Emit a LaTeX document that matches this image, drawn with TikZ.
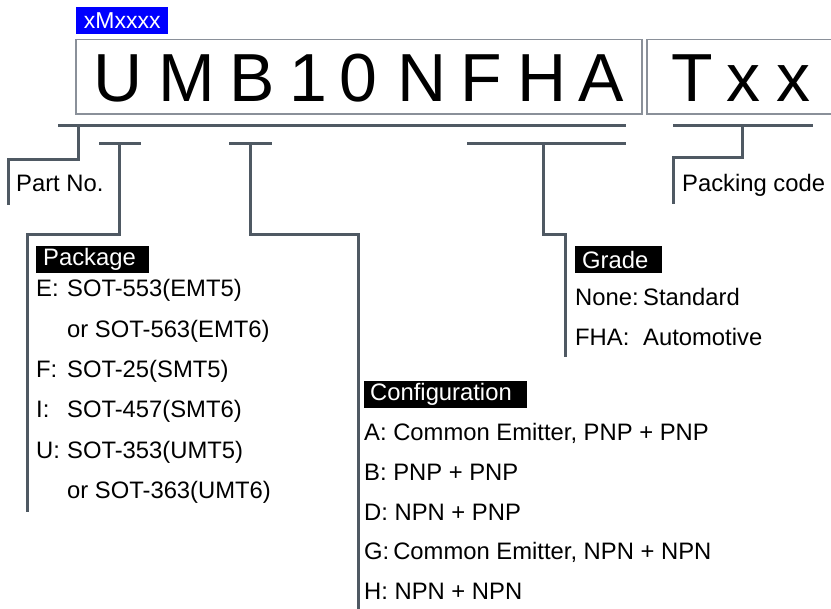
\documentclass[tikz,border=0pt]{standalone}
\usepackage{fontspec}
\setmainfont{Liberation Sans}
\definecolor{linegray}{HTML}{4F5963}
\definecolor{boxgray}{HTML}{8A9099}
\definecolor{tagblue}{HTML}{0000FF}
\begin{document}
\begin{tikzpicture}[x=1pt,y=-1pt,
  conn/.style={draw=linegray, line width=3pt},
  codebox/.style={draw=boxgray, line width=1.3pt},
  big/.style={font=\fontsize{68}{70}\selectfont, anchor=base, inner sep=0},
  txt/.style={font=\fontsize{23.8}{26}\selectfont, anchor=base west, inner sep=0},
  tag/.style={fill=black, text=white, font=\fontsize{23.8}{26}\selectfont, anchor=north west, inner sep=0, minimum height=27pt, align=left}]
\useasboundingbox (0,0) rectangle (831,609);
% header tag
\node[fill=tagblue, text=white, font=\fontsize{23}{25}\selectfont, anchor=north west, inner sep=0, minimum width=92pt, minimum height=27pt] (xm) at (76,7) {xMxxxx};
% code boxes
\draw[codebox] (76,39.5) rectangle (642,114);
\draw[codebox] (647,39.5) rectangle (840,114);
% big letters
\node[big] (cU) at (118,102) {U};
\node[big] (cM) at (187,102) {M};
\node[big] (cB) at (252,102) {B};
\node[big] (c1) at (308,102) {1};
\node[big] (c0) at (358,102) {0};
\node[big] (cN) at (422,102) {N};
\node[big] (cF) at (481,102) {F};
\node[big] (cH) at (542,102) {H};
\node[big] (cA) at (601,102) {A};
\node[big] (cT) at (692,102) {T};
\node[big] (cx1) at (743,102) {x};
\node[big] (cx2) at (793,102) {x};
% coordinates of connectors
\coordinate (topL) at (58,126);
\coordinate (topR) at (626,126);
\coordinate (pkL) at (673,126);
\coordinate (pkR) at (813,126);
\coordinate (pkgL) at (99,144);
\coordinate (pkgR) at (141,144);
\coordinate (cfgL) at (229,144);
\coordinate (cfgR) at (272,144);
\coordinate (grdL) at (467,144);
\coordinate (grdR) at (626,144);
% horizontal bars
\draw[conn] (topL) -- (topR);
\draw[conn] (pkL) -- (pkR);
\draw[conn] (pkgL) -- (pkgR);
\draw[conn] (cfgL) -- (cfgR);
\draw[conn] (grdL) -- (grdR);
% labels
\node[txt] (partno) at (16,191.5) {Part No.};
\node[txt] (packing) at (682,191.5) {Packing code};
% legs
\coordinate (partEnd) at (8,205);
\draw[conn] (78,126) -- (78,160) -- (8,160) -- (partEnd);
\coordinate (packEnd) at (673,204);
\draw[conn] (742,126) -- (742,158) -- (673,158) -- (packEnd);
\coordinate (pkgEnd) at (27,512);
\draw[conn] (119,144) -- (119,235) -- (27,235) -- (pkgEnd);
\coordinate (cfgEnd) at (358,612);
\draw[conn] (250,144) -- (250,235) -- (358,235) -- (cfgEnd);
\coordinate (grdEnd) at (565,357);
\draw[conn] (543,144) -- (543,235) -- (565,235) -- (grdEnd);
% Package
\node[tag, text width=113pt] (pkg) at (36,246) {\hspace*{7pt}Package};
\node[txt] (pE) at (36,297) {E:};
\node[txt] (pEv) at (67,297) {SOT-553(EMT5)};
\node[txt] (pE2) at (67,337.5) {or SOT-563(EMT6)};
\node[txt] (pF) at (36,378) {F:};
\node[txt] (pFv) at (67,378) {SOT-25(SMT5)};
\node[txt] (pI) at (36,418) {I:};
\node[txt] (pIv) at (67,418) {SOT-457(SMT6)};
\node[txt] (pU) at (36,458.5) {U:};
\node[txt] (pUv) at (67,458.5) {SOT-353(UMT5)};
\node[txt] (pU2) at (67,499) {or SOT-363(UMT6)};
% Grade
\node[tag, text width=87pt] (grd) at (575,246) {\hspace*{7pt}Grade};
\node[txt] (gN) at (575,306) {None:};
\node[txt] (gNv) at (643,306) {Standard};
\node[txt] (gF) at (575,346) {FHA:};
\node[txt] (gFv) at (643,346) {Automotive};
% Configuration
\node[tag, text width=163pt] (cfg) at (364,381) {\hspace*{6pt}Configuration};
\node[txt] (cA) at (364,441) {A: Common Emitter, PNP + PNP};
\node[txt] (cB) at (364,480.7) {B: PNP + PNP};
\node[txt] (cD) at (364,520.4) {D: NPN + PNP};
\node[txt] (cG) at (364,560) {G:\,Common Emitter, NPN + NPN};
\node[txt] (cHh) at (364,599.7) {H: NPN + NPN};
\end{tikzpicture}
\end{document}
